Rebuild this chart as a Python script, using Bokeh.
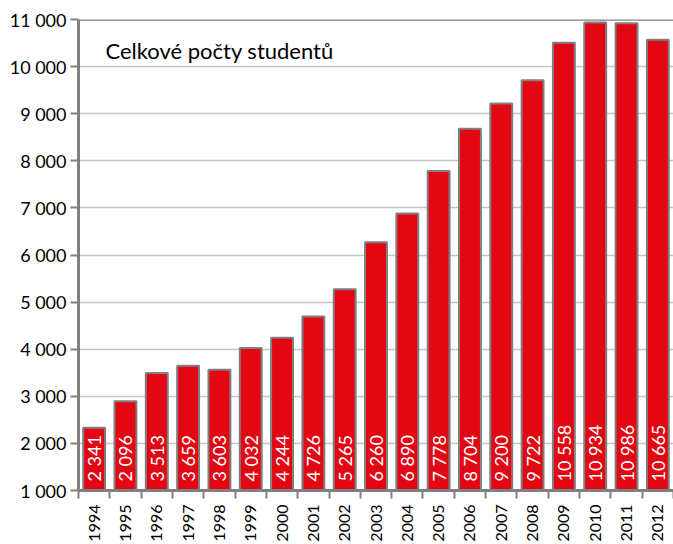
import math
from bokeh.plotting import figure
from bokeh.models import ColumnDataSource, FixedTicker, Span, Label, Range1d
from bokeh.core.properties import value
from bokeh.embed import file_html
from bokeh.resources import INLINE

years = ["1994", "1995", "1996", "1997", "1998", "1999", "2000", "2001", "2002", "2003",
         "2004", "2005", "2006", "2007", "2008", "2009", "2010", "2011", "2012"]
# bar heights as drawn in the picture
students = [2330, 2894, 3496, 3650, 3566, 4025, 4242, 4695, 5275, 6269,
            6883, 7784, 8678, 9214, 9708, 10506, 10936, 10920, 10570]
# value labels as printed inside the bars
bar_labels = ["2 341", "2 096", "3 513", "3 659", "3 603", "4 032", "4 244", "4 726", "5 265", "6 260",
              "6 890", "7 778", "8 704", "9 200", "9 722", "10 558", "10 934", "10 986", "10 665"]
y_ticks = [1000, 2000, 3000, 4000, 5000, 6000, 7000, 8000, 9000, 10000, 11000]
y_tick_labels = ["1 000", "2 000", "3 000", "4 000", "5 000", "6 000", "7 000", "8 000", "9 000", "10 000", "11 000"]
title_text = "Celkové počty studentů"

FONT = "Lato"
RED = "#E30613"
GREY = "#808080"

idx = list(range(len(years)))
src = ColumnDataSource(dict(x=idx, top=students, lab=bar_labels))

p = figure(width=673, height=544, output_backend="svg", toolbar_location=None,
           x_range=Range1d(-0.5, len(years) - 0.5), y_range=Range1d(1000, 11000),
           min_border_left=78, min_border_right=0, min_border_top=19, min_border_bottom=53)
p.outline_line_color = None
p.background_fill_color = "white"
p.border_fill_color = "white"

p.vbar(x="x", top="top", bottom=1000, width=0.7, source=src,
       fill_color=RED, line_color=GREY, line_width=2)

p.text(x="x", y=1000, text="lab", source=src, angle=math.pi / 2,
       text_align="left", text_baseline="middle", y_offset=-9,
       text_color="white", text_font=value(FONT), text_font_size="18px")

# x axis
p.xaxis.ticker = FixedTicker(ticks=idx, minor_ticks=[i - 0.5 for i in range(len(years) + 1)])
p.xaxis.major_label_overrides = {i: y for i, y in zip(idx, years)}
p.xaxis.major_label_orientation = math.pi / 2
p.xaxis.major_tick_out = 0
p.xaxis.major_tick_in = 0
p.xaxis.minor_tick_out = 8
p.xaxis.minor_tick_in = 0
p.xaxis.minor_tick_line_color = GREY
p.xaxis.minor_tick_line_width = 2
p.xaxis.axis_line_color = GREY
p.xaxis.axis_line_width = 3
p.xaxis.major_label_standoff = 6
p.xaxis.major_label_text_font = FONT
p.xaxis.major_label_text_font_size = "16px"
p.xaxis.major_label_text_color = "black"

# y axis
p.yaxis.ticker = FixedTicker(ticks=y_ticks)
p.yaxis.major_label_overrides = {t: l for t, l in zip(y_ticks, y_tick_labels)}
p.yaxis.major_tick_out = 8
p.yaxis.major_tick_in = 0
p.yaxis.minor_tick_line_color = None
p.yaxis.major_tick_line_color = GREY
p.yaxis.major_tick_line_width = 2
p.yaxis.axis_line_color = GREY
p.yaxis.axis_line_width = 3
p.yaxis.major_label_standoff = 4
p.yaxis.major_label_text_font = FONT
p.yaxis.major_label_text_font_size = "18px"
p.yaxis.major_label_text_color = "black"

p.xgrid.grid_line_color = None
p.ygrid.ticker = FixedTicker(ticks=y_ticks)
p.ygrid.grid_line_color = "#c4c4c4"
p.ygrid.grid_line_width = 1.5

p.add_layout(Span(location=11000, dimension="width", line_color=GREY, line_width=2.5))

p.add_layout(Label(x=0.36, y=10343, text=title_text, text_font=FONT, text_font_size="22px",
                   text_color="black", text_baseline="alphabetic", text_align="left"))

open("out.html", "w").write(file_html(p, INLINE))
